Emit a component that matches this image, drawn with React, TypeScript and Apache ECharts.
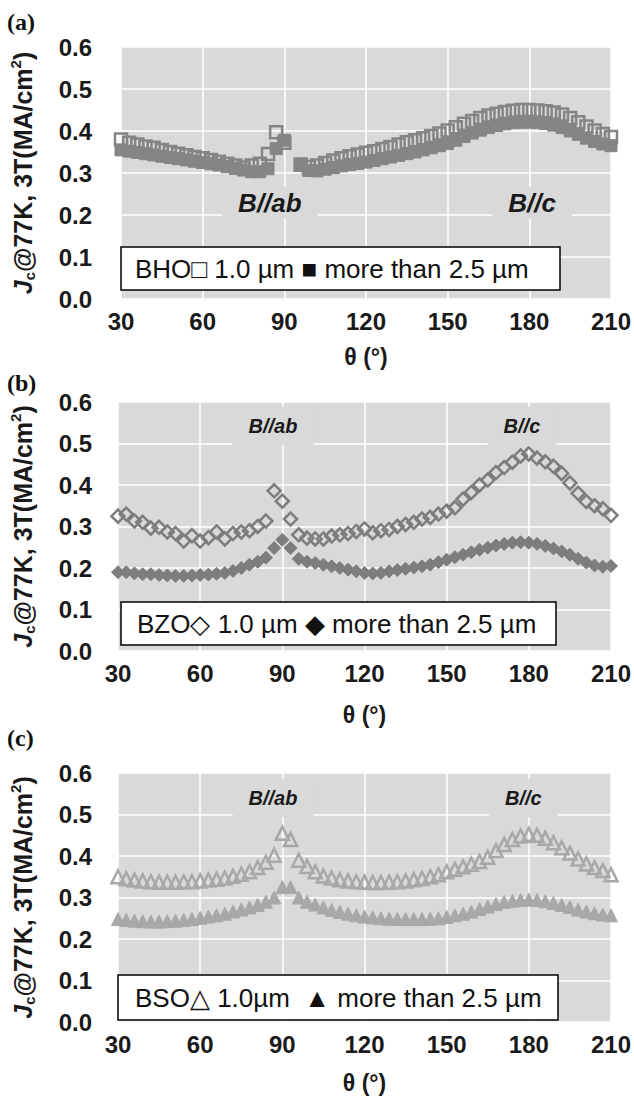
import React, { useEffect, useRef } from "react";
import * as echarts from "echarts";

// Angle θ (degrees) of each measurement
const theta = [30, 33, 36, 39, 42, 45, 48, 51, 54, 57, 60, 63, 66, 69, 72, 75, 78, 81, 84, 87, 90, 93, 96, 99, 102, 105, 108, 111, 114, 117, 120, 123, 126, 129, 132, 135, 138, 141, 144, 147, 150, 153, 156, 159, 162, 165, 168, 171, 174, 177, 180, 183, 186, 189, 192, 195, 198, 201, 204, 207, 210];

// (a) BHO
const bhoThin = [0.380, 0.372, 0.368, 0.363, 0.360, 0.355, 0.350, 0.346, 0.342, 0.338, 0.335, 0.331, 0.327, 0.322, 0.318, 0.313, 0.318, 0.322, 0.345, 0.397, 0.372, null, 0.320, 0.314, 0.318, 0.324, 0.330, 0.335, 0.340, 0.344, 0.348, 0.352, 0.357, 0.362, 0.368, 0.373, 0.378, 0.383, 0.388, 0.394, 0.401, 0.409, 0.417, 0.424, 0.431, 0.437, 0.441, 0.445, 0.448, 0.450, 0.450, 0.449, 0.447, 0.444, 0.439, 0.431, 0.421, 0.411, 0.401, 0.393, 0.386];
const bhoThick = [0.355, 0.352, 0.349, 0.346, 0.343, 0.340, 0.337, 0.334, 0.331, 0.328, 0.325, 0.322, 0.319, 0.315, 0.311, 0.307, 0.303, 0.303, 0.310, 0.358, 0.378, null, 0.318, 0.306, 0.305, 0.309, 0.313, 0.317, 0.320, 0.323, 0.326, 0.330, 0.334, 0.338, 0.342, 0.346, 0.350, 0.355, 0.360, 0.365, 0.370, 0.378, 0.387, 0.395, 0.402, 0.408, 0.413, 0.417, 0.420, 0.421, 0.421, 0.420, 0.418, 0.414, 0.408, 0.400, 0.392, 0.383, 0.375, 0.369, 0.365];

// (b) BZO
const bzoThin = [0.325, 0.330, 0.313, 0.310, 0.296, 0.298, 0.287, 0.283, 0.265, 0.278, 0.265, 0.273, 0.287, 0.270, 0.283, 0.287, 0.290, 0.300, 0.313, 0.386, 0.361, 0.318, 0.280, 0.272, 0.270, 0.270, 0.277, 0.280, 0.283, 0.288, 0.294, 0.285, 0.290, 0.293, 0.300, 0.305, 0.310, 0.318, 0.322, 0.330, 0.337, 0.345, 0.366, 0.382, 0.400, 0.412, 0.430, 0.442, 0.455, 0.470, 0.475, 0.465, 0.456, 0.445, 0.428, 0.405, 0.380, 0.360, 0.350, 0.343, 0.327];
const bzoThick = [0.190, 0.190, 0.187, 0.185, 0.185, 0.183, 0.182, 0.181, 0.181, 0.182, 0.183, 0.184, 0.186, 0.188, 0.193, 0.200, 0.208, 0.215, 0.225, 0.248, 0.268, 0.248, 0.222, 0.215, 0.212, 0.208, 0.204, 0.200, 0.196, 0.192, 0.188, 0.187, 0.188, 0.192, 0.195, 0.198, 0.201, 0.204, 0.208, 0.214, 0.220, 0.226, 0.232, 0.238, 0.244, 0.249, 0.254, 0.258, 0.261, 0.262, 0.261, 0.258, 0.253, 0.247, 0.240, 0.232, 0.222, 0.213, 0.206, 0.203, 0.205];

// (c) BSO
const bsoThin = [0.350, 0.345, 0.342, 0.340, 0.338, 0.337, 0.337, 0.337, 0.338, 0.338, 0.340, 0.342, 0.344, 0.347, 0.351, 0.356, 0.362, 0.372, 0.385, 0.402, 0.455, 0.440, 0.390, 0.375, 0.362, 0.352, 0.347, 0.343, 0.340, 0.338, 0.337, 0.336, 0.336, 0.337, 0.338, 0.340, 0.343, 0.346, 0.350, 0.355, 0.362, 0.368, 0.374, 0.380, 0.387, 0.397, 0.413, 0.428, 0.440, 0.448, 0.452, 0.450, 0.443, 0.432, 0.420, 0.407, 0.393, 0.381, 0.372, 0.365, 0.355];
const bsoThick = [0.248, 0.246, 0.244, 0.243, 0.242, 0.242, 0.243, 0.244, 0.246, 0.248, 0.251, 0.254, 0.257, 0.261, 0.266, 0.271, 0.276, 0.282, 0.290, 0.300, 0.325, 0.325, 0.300, 0.290, 0.283, 0.276, 0.270, 0.265, 0.261, 0.257, 0.254, 0.252, 0.250, 0.249, 0.248, 0.248, 0.248, 0.248, 0.249, 0.250, 0.253, 0.257, 0.261, 0.266, 0.272, 0.278, 0.284, 0.289, 0.292, 0.294, 0.295, 0.294, 0.291, 0.287, 0.282, 0.277, 0.271, 0.266, 0.262, 0.259, 0.257];

// Axis ticks
const xTicks = [30, 60, 90, 120, 150, 180, 210];
const yTicks = [0.0, 0.1, 0.2, 0.3, 0.4, 0.5, 0.6];

// Annotations [θ, Jc, text]
const annotA: [number, number, string][] = [[84.7, 0.229, "B//ab"], [181, 0.229, "B//c"]];
const annotB: [number, number, string][] = [[86.6, 0.542, "B//ab"], [177.5, 0.542, "B//c"]];
const annotC: [number, number, string][] = [[86.6, 0.54, "B//ab"], [178, 0.54, "B//c"]];

const legendA = "BHO\u25A1 1.0 \u00B5m \u25A0 more than 2.5 \u00B5m";
const legendB = "BZO\u25C7 1.0 \u00B5m \u25C6 more than 2.5 \u00B5m";
const legendC = "BSO\u25B3 1.0\u00B5m  \u25B2 more than 2.5 \u00B5m";

const SANS = "'Liberation Sans', Arial, sans-serif";
const BG = "#d9d9d9";
const INK = "#1a1a1a";

function pairs(y: (number | null)[]) {
  const out: number[][] = [];
  y.forEach((v, i) => {
    if (v !== null) out.push([theta[i], v]);
  });
  return out;
}

export default function App() {
  const ref = useRef<HTMLDivElement>(null);
  useEffect(() => {
    document.body.style.margin = "0";
    const chart = echarts.init(ref.current!, null, { renderer: "svg" });

    const grids = [
      { left: 121, right: 17, top: 47, height: 252 },
      { left: 118, right: 23, top: 402, height: 249 },
      { left: 118, right: 23, top: 773, height: 249 },
    ];
    const nameGaps = [46, 52, 49];

    const xAxes = grids.map((_, i) => ({
      type: "value",
      gridIndex: i,
      min: 30,
      max: 210,
      interval: 30,
      axisLine: { show: false },
      axisTick: { show: false },
      axisLabel: { fontFamily: SANS, fontWeight: "bold", fontSize: 24, color: INK, margin: 10 },
      splitLine: { show: true, lineStyle: { color: "#ffffff", width: 1.5 } },
      name: "\u03B8 (\u00B0)",
      nameLocation: "middle",
      nameGap: nameGaps[i],
      nameTextStyle: { fontFamily: SANS, fontWeight: "bold", fontSize: 23, color: INK },
    }));

    const yAxes = grids.map((_, i) => ({
      type: "value",
      gridIndex: i,
      min: 0,
      max: 0.6,
      interval: 0.1,
      axisLine: { show: false },
      axisTick: { show: false },
      axisLabel: {
        fontFamily: SANS,
        fontWeight: "bold",
        fontSize: 24,
        color: INK,
        margin: i === 0 ? 29 : 26,
        formatter: (v: number) => v.toFixed(1),
      },
      splitLine: { show: true, lineStyle: { color: "#ffffff", width: 1.5 } },
      name: "{i|J}{s|c}{n|@77K, 3T(MA/cm}{p|2}{n|)}",
      nameLocation: "middle",
      nameRotate: 90,
      nameGap: i === 0 ? 84 : 81,
      nameTextStyle: {
        rich: {
          i: { fontFamily: SANS, fontWeight: "bold", fontStyle: "italic", fontSize: 25, color: INK, lineHeight: 29 },
          s: { fontFamily: SANS, fontWeight: "bold", fontSize: 15, color: INK, verticalAlign: "bottom", lineHeight: 29 },
          n: { fontFamily: SANS, fontWeight: "bold", fontSize: 25, color: INK, lineHeight: 29 },
          p: { fontFamily: SANS, fontWeight: "bold", fontSize: 15, color: INK, verticalAlign: "top", lineHeight: 29 },
        },
      },
    }));

    const annotSeries = (arr: [number, number, string][], idx: number, size: number, padV: number) => ({
      type: "scatter",
      xAxisIndex: idx,
      yAxisIndex: idx,
      symbolSize: 0,
      z: 1,
      silent: true,
      itemStyle: { opacity: 1 },
      data: arr.map((a) => ({ value: [a[0], a[1]], name: a[2] })),
      label: {
        show: true,
        position: "inside",
        formatter: "{b}",
        opacity: 1,
        fontFamily: SANS,
        fontWeight: "bold",
        fontStyle: "italic",
        fontSize: size,
        color: INK,
        backgroundColor: BG,
        padding: [padV, 16, padV, 16],
      },
    });

    const markerSeries = (
      data: (number | null)[],
      idx: number,
      symbol: string,
      size: number | number[],
      color: string,
      open: boolean
    ) => ({
      type: "scatter",
      xAxisIndex: idx,
      yAxisIndex: idx,
      symbol,
      symbolSize: size,
      z: open ? 4 : 3,
      data: pairs(data),
      itemStyle: open
        ? { color: "rgba(0,0,0,0)", borderColor: color, borderWidth: 2.5, opacity: 1 }
        : { color, borderColor: color, borderWidth: 1, opacity: 1 },
    });

    const cA = "#858585";
    const cB = "#7d7d7d";
    const cC = "#a8a8a8";

    const legendBox = (x: number, y: number, w: number, h: number, tx: number, txt: string) => [
      { type: "rect", shape: { x, y, width: w, height: h }, style: { fill: "#ffffff", stroke: "#000000", lineWidth: 1.5 }, z: 10 },
      { type: "text", x: tx, y: y + h / 2, style: { text: txt, fontFamily: SANS, fontSize: 26, fill: "#111111", verticalAlign: "middle" }, z: 11 },
    ];

    const panelLabel = (t: string, y: number) => ({
      type: "text",
      x: 7,
      y,
      style: { text: t, fontFamily: "'Liberation Serif', 'Times New Roman', serif", fontWeight: "bold", fontSize: 24, fill: "#111" },
    });

    chart.setOption({
      animation: false,
      backgroundColor: "#ffffff",
      grid: grids.map((g) => ({ ...g, show: true, backgroundColor: BG, borderWidth: 0 })),
      xAxis: xAxes,
      yAxis: yAxes,
      series: [
        annotSeries(annotA, 0, 26, 3),
        markerSeries(bhoThick, 0, "rect", 12, cA, false),
        markerSeries(bhoThin, 0, "rect", 12, cA, true),
        annotSeries(annotB, 1, 20, 9),
        markerSeries(bzoThick, 1, "diamond", 13, cB, false),
        markerSeries(bzoThin, 1, "diamond", 13, cB, true),
        annotSeries(annotC, 2, 20, 9),
        markerSeries(bsoThick, 2, "triangle", 13, cC, false),
        markerSeries(bsoThin, 2, "triangle", 13, cC, true),
      ],
      graphic: [
        panelLabel("(a)", 10),
        panelLabel("(b)", 371),
        panelLabel("(c)", 726),
        ...legendBox(121, 247, 439, 43, 135, legendA),
        ...legendBox(121, 602, 435, 43, 137, legendB),
        ...legendBox(118, 975, 440, 45, 135, legendC),
      ],
    });
    return () => chart.dispose();
  }, []);
  return <div ref={ref} style={{ position: "absolute", left: 0, top: 0, width: 634, height: 1096 }} />;
}
